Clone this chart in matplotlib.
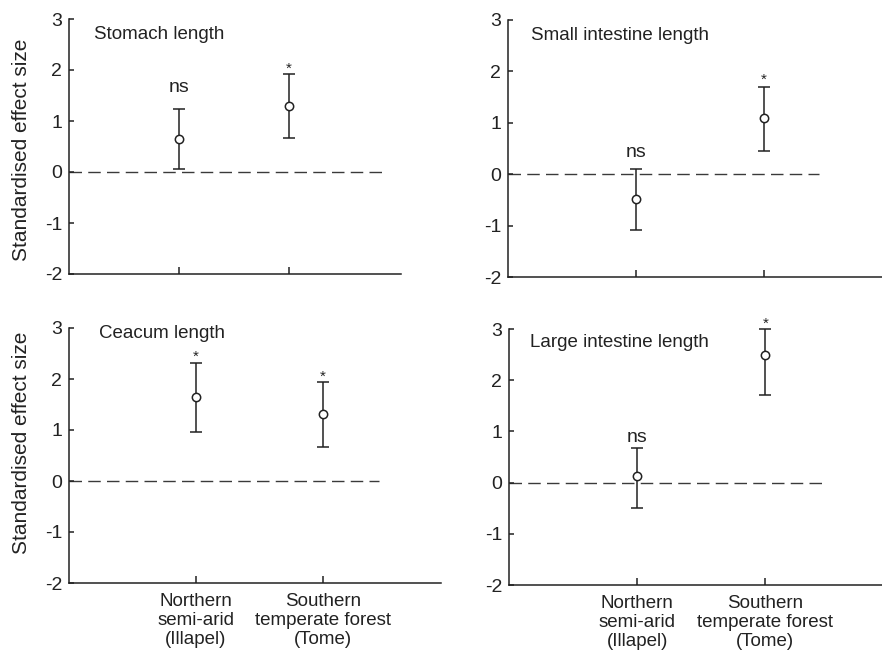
import numpy as np
import matplotlib
matplotlib.use("Agg")
import matplotlib.pyplot as plt

plt.rcParams['font.family'] = ['Liberation Sans', 'DejaVu Sans']
plt.rcParams['axes.unicode_minus'] = False

# === Data ===
categories = ["Northern\nsemi-arid\n(Illapel)", "Southern\ntemperate forest\n(Tome)"]
x_pos = [1, 2]
panel_titles = ["Stomach length", "Small intestine length",
                "Ceacum length", "Large intestine length"]

stomach_mean = [0.65, 1.30]
stomach_low = [0.05, 0.66]
stomach_high = [1.23, 1.92]
stomach_sig = ["ns", "*"]
stomach_sig_y = [1.57, 1.95]

small_mean = [-0.48, 1.10]
small_low = [-1.09, 0.46]
small_high = [0.10, 1.70]
small_sig = ["ns", "*"]
small_sig_y = [0.34, 1.75]

ceacum_mean = [1.65, 1.31]
ceacum_low = [0.97, 0.67]
ceacum_high = [2.31, 1.94]
ceacum_sig = ["*", "*"]
ceacum_sig_y = [2.36, 1.96]

large_mean = [0.12, 2.50]
large_low = [-0.49, 1.71]
large_high = [0.68, 3.00]
large_sig = ["ns", "*"]
large_sig_y = [0.80, 3.02]

means = [stomach_mean, small_mean, ceacum_mean, large_mean]
lows = [stomach_low, small_low, ceacum_low, large_low]
highs = [stomach_high, small_high, ceacum_high, large_high]
sigs = [stomach_sig, small_sig, ceacum_sig, large_sig]
sig_ys = [stomach_sig_y, small_sig_y, ceacum_sig_y, large_sig_y]

# === Layout (pixel boxes: x0, x1, ytop, ybottom) ===
W, H = 882, 657
boxes = [(69, 401, 19, 274), (508, 882, 20, 277),
         (69, 441, 328, 583), (509, 882, 329, 585)]
xlims = [3.02, 2.92, 2.93, 2.91]
dash_end = [2.85, 2.43, 2.44, 2.45]
title_xy = [(0.23, 2.69), (0.18, 2.69), (0.24, 2.90), (0.16, 2.74)]

INK = '#222222'
LW = 1.1
fig = plt.figure(figsize=(W / 100, H / 100), dpi=100)

for i in range(4):
    x0, x1, yt, yb = boxes[i]
    ax = fig.add_axes([x0 / W, 1 - yb / H, (x1 - x0) / W, (yb - yt) / H])
    ax.set_xlim(0, xlims[i])
    ax.set_ylim(-2, 3)
    for s in ['top', 'right']:
        ax.spines[s].set_visible(False)
    for s in ['left', 'bottom']:
        ax.spines[s].set_color(INK)
        ax.spines[s].set_linewidth(LW)

    ax.plot([0, dash_end[i]], [0, 0], color='#3a3a3a', lw=1.0,
            linestyle=(0, (9, 4.5)), zorder=1)

    m = np.array(means[i])
    lo = m - np.array(lows[i])
    hi = np.array(highs[i]) - m
    ax.errorbar(x_pos, m, yerr=[lo, hi], fmt='o', color=INK, ecolor=INK,
                elinewidth=LW, capsize=4, capthick=LW, markersize=6,
                markerfacecolor='white', markeredgecolor=INK,
                markeredgewidth=LW, clip_on=False, zorder=3)

    for xp, lab, yy in zip(x_pos, sigs[i], sig_ys[i]):
        ax.text(xp, yy, lab, ha='center', va='baseline',
                fontsize=14 if lab == "ns" else 11, color=INK)

    ax.text(title_xy[i][0], title_xy[i][1], panel_titles[i],
            ha='left', va='center', fontsize=13.5, color=INK)

    ax.set_yticks([-2, -1, 0, 1, 2, 3])
    ax.set_xticks(x_pos)
    ax.tick_params(axis='y', direction='in', length=3.5, width=LW,
                   pad=5, labelsize=14, colors=INK)
    ax.tick_params(axis='x', direction='in', length=5, width=LW,
                   pad=7, labelsize=13.5, colors=INK)
    if i >= 2:
        ax.set_xticklabels(categories, linespacing=1.15)
    else:
        ax.set_xticklabels([])

# y labels for left column
fig.text(22 / W, 1 - 150 / H, "Standardised effect size", rotation=90,
         ha='center', va='center', fontsize=15, color=INK)
fig.text(22 / W, 1 - 443 / H, "Standardised effect size", rotation=90,
         ha='center', va='center', fontsize=15, color=INK)

fig.savefig("out.png", dpi=100)
